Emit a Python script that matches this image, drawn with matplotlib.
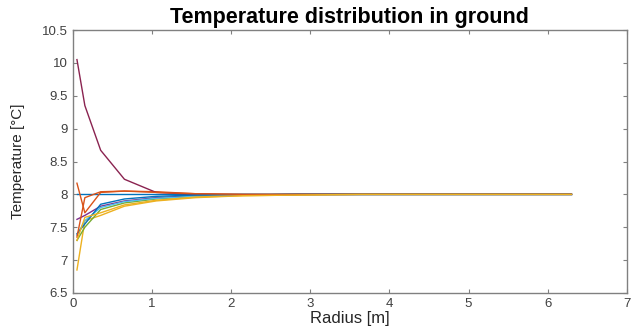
import matplotlib.pyplot as plt

plt.rcParams['font.family'] = ['Liberation Sans', 'DejaVu Sans']

# radial grid [m]
radius = [0.05, 0.15, 0.35, 0.65, 1.05, 1.55, 2.15, 2.85, 3.65, 4.55, 5.4, 6.3]

# temperature profiles [°C], one per time step
t_blue = [8.0, 8.0, 8.0, 8.0, 8.0, 8.0, 8.0, 8.0, 8.0, 8.0, 8.0, 8.0]
t_orange = [8.17, 7.72, 8.03, 8.05, 8.04, 8.01, 8.0, 8.0, 8.0, 8.0, 8.0, 8.0]
t_yellow = [6.85, 7.6, 7.68, 7.82, 7.9, 7.95, 7.98, 7.99, 8.0, 8.0, 8.0, 8.0]
t_purple = [7.62, 7.68, 7.82, 7.9, 7.95, 7.98, 7.99, 8.0, 8.0, 8.0, 8.0, 8.0]
t_green = [7.3, 7.5, 7.77, 7.87, 7.93, 7.97, 7.99, 8.0, 8.0, 8.0, 8.0, 8.0]
t_cyan = [7.38, 7.6, 7.8, 7.89, 7.94, 7.97, 7.99, 8.0, 8.0, 8.0, 8.0, 8.0]
t_red = [10.05, 9.35, 8.67, 8.23, 8.03, 8.0, 7.99, 8.0, 8.0, 8.0, 8.0, 8.0]
t_blue2 = [7.4, 7.55, 7.85, 7.93, 7.97, 7.99, 8.0, 8.0, 8.0, 8.0, 8.0, 8.0]
t_orange2 = [7.35, 7.95, 8.04, 8.05, 8.03, 8.01, 8.0, 8.0, 8.0, 8.0, 8.0, 8.0]
t_yellow2 = [7.3, 7.65, 7.72, 7.84, 7.91, 7.96, 7.98, 7.99, 8.0, 8.0, 8.0, 8.0]

profiles = [t_blue, t_orange, t_yellow, t_purple, t_green, t_cyan, t_red,
            t_blue2, t_orange2, t_yellow2]
colors = ['#0072BD', '#D95319', '#EDB120', '#7E2F8E', '#77AC30', '#4DBEEE',
          '#8A2350', '#0072BD', '#D95319', '#EDB120']

fig = plt.figure(figsize=(6.37, 3.32), dpi=100)
ax = fig.add_axes([0.1146, 0.1175, 0.8694, 0.7921])

for temps, c in zip(profiles, colors):
    ax.plot(radius, temps, color=c, linewidth=1.0)

ax.set_xlim(0, 7)
ax.set_ylim(6.5, 10.5)
ax.set_xticks(range(0, 8))
ax.set_yticks([6.5, 7, 7.5, 8, 8.5, 9, 9.5, 10, 10.5])
ax.set_yticklabels(['6.5', '7', '7.5', '8', '8.5', '9', '9.5', '10', '10.5'])

grey = '#808080'
for s in ax.spines.values():
    s.set_color(grey)
    s.set_linewidth(1.0)
ax.tick_params(direction='in', top=True, right=True, length=3,
               color=grey, labelcolor='#404040', labelsize=9.5)

ax.set_xlabel('Radius [m]', fontsize=12, color='#262626')
ax.xaxis.set_label_coords(0.5, -0.068)
ax.set_ylabel('Temperature [°C]', fontsize=11, color='#262626')
ax.yaxis.set_label_coords(-0.087, 0.5)
ax.set_title('Temperature distribution in ground', fontsize=15.5,
             fontweight='bold', pad=5)

fig.savefig('out.png', dpi=100)
